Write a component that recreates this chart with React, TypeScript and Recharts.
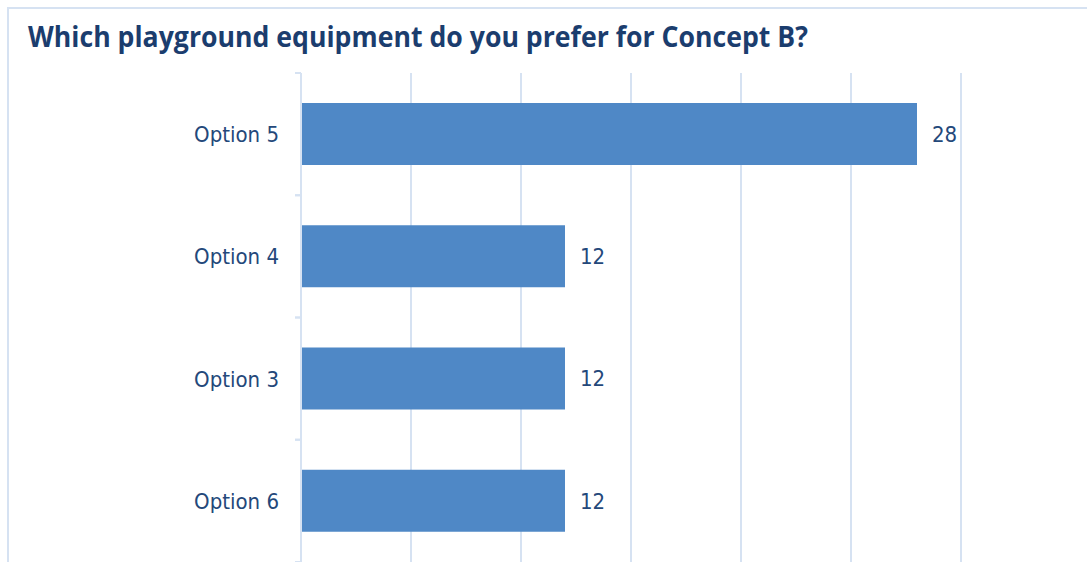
import React from "react";
import { BarChart, Bar, XAxis, YAxis, CartesianGrid, LabelList } from "recharts";

const categories = ["Option 5", "Option 4", "Option 3", "Option 6"];
const responses = [28, 12, 12, 12];
const xTicks = [0, 5, 10, 15, 20, 25, 30];
const title = "Which playground equipment do you prefer for Concept B?";

const data = categories.map((name, i) => ({ name, value: responses[i] }));

const FONT = '"Liberation Sans Narrow", "DejaVu Sans Condensed", "Open Sans", sans-serif';
const TITLE_FONT = '"Open Sans", "DejaVu Sans", sans-serif';
const GRID = "#d6e2f2";
const AXIS_X = 301;

const CategoryTick = (props: any) => {
  const { y, payload } = props;
  const half = payload && payload.offset ? payload.offset : 61;
  return (
    <g>
      <line x1={AXIS_X - 6} x2={AXIS_X} y1={y - half} y2={y - half} stroke={GRID} strokeWidth={2} />
      <line x1={AXIS_X - 6} x2={AXIS_X} y1={y + half} y2={y + half} stroke={GRID} strokeWidth={2} />
      <text x={AXIS_X - 22} y={y} dy={8} textAnchor="end" fill="#24487a" fontSize={22} fontFamily={FONT}>
        {payload.value}
      </text>
    </g>
  );
};

const App: React.FC = () => {
  return (
    <div style={{ position: "fixed", left: 0, top: 0, width: 1087, height: 562, overflow: "hidden", background: "#fff" }}>
      <div
        style={{
          position: "absolute",
          left: 7,
          top: 7,
          width: 1200,
          height: 700,
          borderLeft: `2px solid ${GRID}`,
          borderTop: `2px solid ${GRID}`,
        }}
      />
      <svg style={{ position: "absolute", left: 0, top: 0 }} width={1087} height={70}>
        <text
          x={28}
          y={47}
          fontFamily={TITLE_FONT}
          fontWeight={700}
          fontSize={29}
          fill="#1b3d6e"
          textLength={780}
          lengthAdjust="spacingAndGlyphs"
        >
          {title}
        </text>
      </svg>
      <div style={{ position: "absolute", left: 0, top: 0 }}>
        <BarChart
          width={1087}
          height={562}
          data={data}
          layout="vertical"
          margin={{ top: 73, right: 126, bottom: 0, left: 0 }}
        >
          <CartesianGrid horizontal={false} stroke={GRID} strokeWidth={2} />
          <XAxis type="number" domain={[0, 30]} ticks={xTicks} hide />
          <YAxis
            type="category"
            dataKey="name"
            width={AXIS_X}
            axisLine={{ stroke: GRID, strokeWidth: 2 }}
            tickLine={false}
            tick={<CategoryTick />}
            interval={0}
          />
          <Bar dataKey="value" fill="#4f88c6" barSize={62} isAnimationActive={false}>
            <LabelList dataKey="value" position="right" offset={15} fill="#24487a" fontSize={22} fontFamily={FONT} />
          </Bar>
        </BarChart>
      </div>
    </div>
  );
};

export default App;
